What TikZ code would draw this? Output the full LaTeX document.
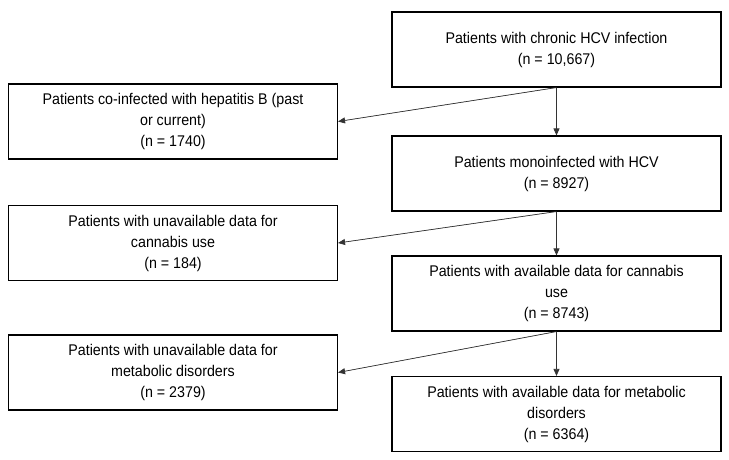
\documentclass[tikz,border=0pt]{standalone}
\usepackage{fontspec}
\setmainfont[FakeStretch=0.92]{Liberation Sans}
\usetikzlibrary{arrows.meta}

\begin{document}
\begin{tikzpicture}[x=1pt,y=-1pt,
		box/.style={draw,line width=1.1pt,minimum width=329pt,minimum height=75pt,align=center,inner sep=2pt,font=\fontsize{15.5}{21}\selectfont},
		link/.style={-{Triangle[length=7pt,width=6pt]},line width=0.7pt,draw=black!80,fill=black}]
		\useasboundingbox (0,0) rectangle (729,460);
		
		\node[box] (total) at (556.5,49.5) {Patients with chronic HCV infection\\(n = 10,667)};
		\node[box] (hbv) at (173,121.5) {Patients co-infected with hepatitis B (past\\or current)\\(n = 1740)};
		\node[box] (mono) at (556.5,173.5) {Patients monoinfected with HCV\\(n = 8927)};
		\node[box] (nocann) at (173,243) {Patients with unavailable data for\\cannabis use\\(n = 184)};
		\node[box] (cann) at (556.5,293.5) {Patients with available data for cannabis\\use\\(n = 8743)};
		\node[box] (nometa) at (173,372.5) {Patients with unavailable data for\\metabolic disorders\\(n = 2379)};
		\node[box] (meta) at (556.5,414) {Patients with available data for metabolic\\disorders\\(n = 6364)};
		
		\draw[link] (total.south) -- (hbv.east);
		\draw[link] (total.south) -- (mono.north);
		
		\draw[link] (mono.south) -- (nocann.east);
		\draw[link] (mono.south) -- (cann.north);
		
		\draw[link] (cann.south) -- (nometa.east);
		\draw[link] (cann.south) -- (meta.north);
		
	\end{tikzpicture}
\end{document}
